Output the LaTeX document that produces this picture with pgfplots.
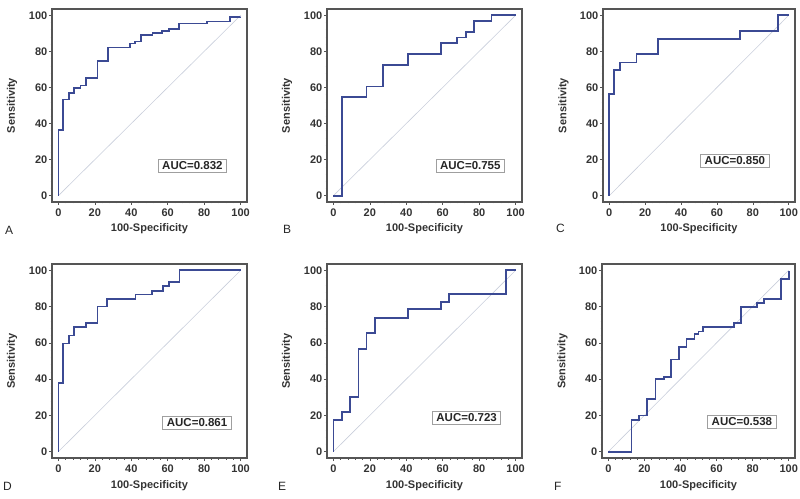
\documentclass[border=0pt]{standalone}
\usepackage{pgfplots}
\pgfplotsset{compat=1.18}
\usepackage{fontspec}
\setmainfont{Liberation Sans}
\definecolor{roc}{HTML}{3B4A94}
\definecolor{diag}{HTML}{C9CEDB}
\definecolor{frame}{HTML}{555555}
\tikzset{
 auc/.style={draw=gray!75, fill=white, line width=0.8pt, text=black!85,
  font=\fontsize{11.5}{13}\selectfont\bfseries, inner xsep=4pt, inner ysep=2.5pt},
}
\pgfplotsset{
 rocax/.style={
  width=195pt, height=193pt, scale only axis,
  anchor=south west,
  xmin=-3.5, xmax=103.5, ymin=-3.5, ymax=103.5,
  xtick={0,20,...,100}, ytick={0,20,...,100},
  minor tick num=4,
  tick align=outside, tick pos=left,
  major tick length=3pt, minor tick length=1.5pt,
  every tick/.append style={frame, line width=0.6pt},
  axis line style={frame, line width=1.1pt},
  tick label style={font=\fontsize{11}{13}\selectfont\bfseries, text=black!80},
  yticklabel style={inner xsep=1.5pt},
  /pgf/number format/assume math mode=true,
  xlabel={100-Specificity}, ylabel={Sensitivity},
  label style={font=\fontsize{11}{13}\selectfont\bfseries, text=black!80},
  xlabel style={at={(axis description cs:0.5,-0.14)}, anchor=center},
  ylabel style={at={(axis description cs:-0.205,0.5)}, anchor=center},
 },
 diagline/.style={diag, line width=0.6pt},
 rocline/.style={roc, line width=1.7pt, const plot mark left},
}
\begin{document}
\begin{tikzpicture}
\useasboundingbox (0pt,0pt) rectangle (800pt,498pt);
% A
\begin{axis}[rocax, at={(52pt,296pt)}]
\addplot[diagline] coordinates {(0,0)(100,100)};
\addplot[rocline] coordinates {(0,0)(0,36.5)(2.6,53.4)(5.9,56.9)(8.6,59.8)(12.2,61.1)(15,65.3)(21.4,74.5)(27.4,82.2)(39.3,84.4)(42,85.5)(45.2,89)(51.6,90.1)(57,91.2)(60.7,92.3)(66.2,95.4)(81.7,96.5)(94,99.1)(100,99.3)};
\node[auc] at (rel axis cs:0.72,0.189) {AUC=0.832};
\end{axis}
% B
\begin{axis}[rocax, at={(327pt,296pt)}]
\addplot[diagline] coordinates {(0,0)(100,100)};
\addplot[rocline] coordinates {(0,0)(4.9,54.7)(18.1,60.6)(27.2,72.5)(41.1,78.5)(59.2,84.6)(68,87.7)(72.9,90.8)(77.3,96.9)(86.7,100)(100,100)};
\node[auc] at (rel axis cs:0.735,0.187) {AUC=0.755};
\end{axis}
% C
\begin{axis}[rocax, at={(603pt,296pt)}, width=192pt]
\addplot[diagline] coordinates {(0,0)(100,100)};
\addplot[rocline] coordinates {(0,0)(0,56.3)(2.75,69.7)(5.9,73.8)(15.2,78.5)(27.2,86.8)(72.8,91.4)(93.9,100)(100,100)};
\node[auc] at (rel axis cs:0.687,0.215) {AUC=0.850};
\end{axis}
% D
\begin{axis}[rocax, at={(52pt,40pt)}, height=194pt]
\addplot[diagline] coordinates {(0,0)(100,100)};
\addplot[rocline] coordinates {(0,0)(0,37.7)(2.7,59.7)(5.9,64)(8.6,68.6)(15,70.8)(21.4,80)(26.8,84.2)(42.3,86.6)(51.5,88.8)(57.3,91.2)(60.6,93.4)(66.5,100)(100,100)};
\node[auc] at (rel axis cs:0.744,0.183) {AUC=0.861};
\end{axis}
% E
\begin{axis}[rocax, at={(327pt,40pt)}, height=194pt]
\addplot[diagline] coordinates {(0,0)(100,100)};
\addplot[rocline] coordinates {(0,0)(0,17.5)(4.6,22)(9,30.3)(13.7,56.6)(18.1,65.3)(22.7,73.9)(41,78.5)(58.9,82.7)(63.4,86.8)(94.9,100)(100,100)};
\node[auc] at (rel axis cs:0.716,0.206) {AUC=0.723};
\end{axis}
% F
\begin{axis}[rocax, at={(602pt,40pt)}, width=193pt, height=194pt]
\addplot[diagline] coordinates {(0,0)(100,100)};
\addplot[rocline] coordinates {(0,0)(12.8,17.5)(17.1,19.9)(21.5,28.9)(26.1,40)(31,41.2)(34.9,50.8)(39.3,57.6)(43.3,62)(47.7,64.7)(50,66.3)(52.3,68.8)(69.7,70.8)(73.6,79.8)(82.5,82)(86.2,84.2)(95.8,95.4)(100,99.5)};
\node[auc] at (rel axis cs:0.725,0.186) {AUC=0.538};
\end{axis}
\begin{scope}[every node/.style={anchor=west, font=\fontsize{12}{14}\selectfont, text=black!85, inner sep=0pt}]
\node at (5pt,268pt) {A};
\node at (283pt,269pt) {B};
\node at (556pt,270pt) {C};
\node at (3pt,12pt) {D};
\node at (278pt,12pt) {E};
\node at (554pt,12pt) {F};
\end{scope}
\end{tikzpicture}
\end{document}
